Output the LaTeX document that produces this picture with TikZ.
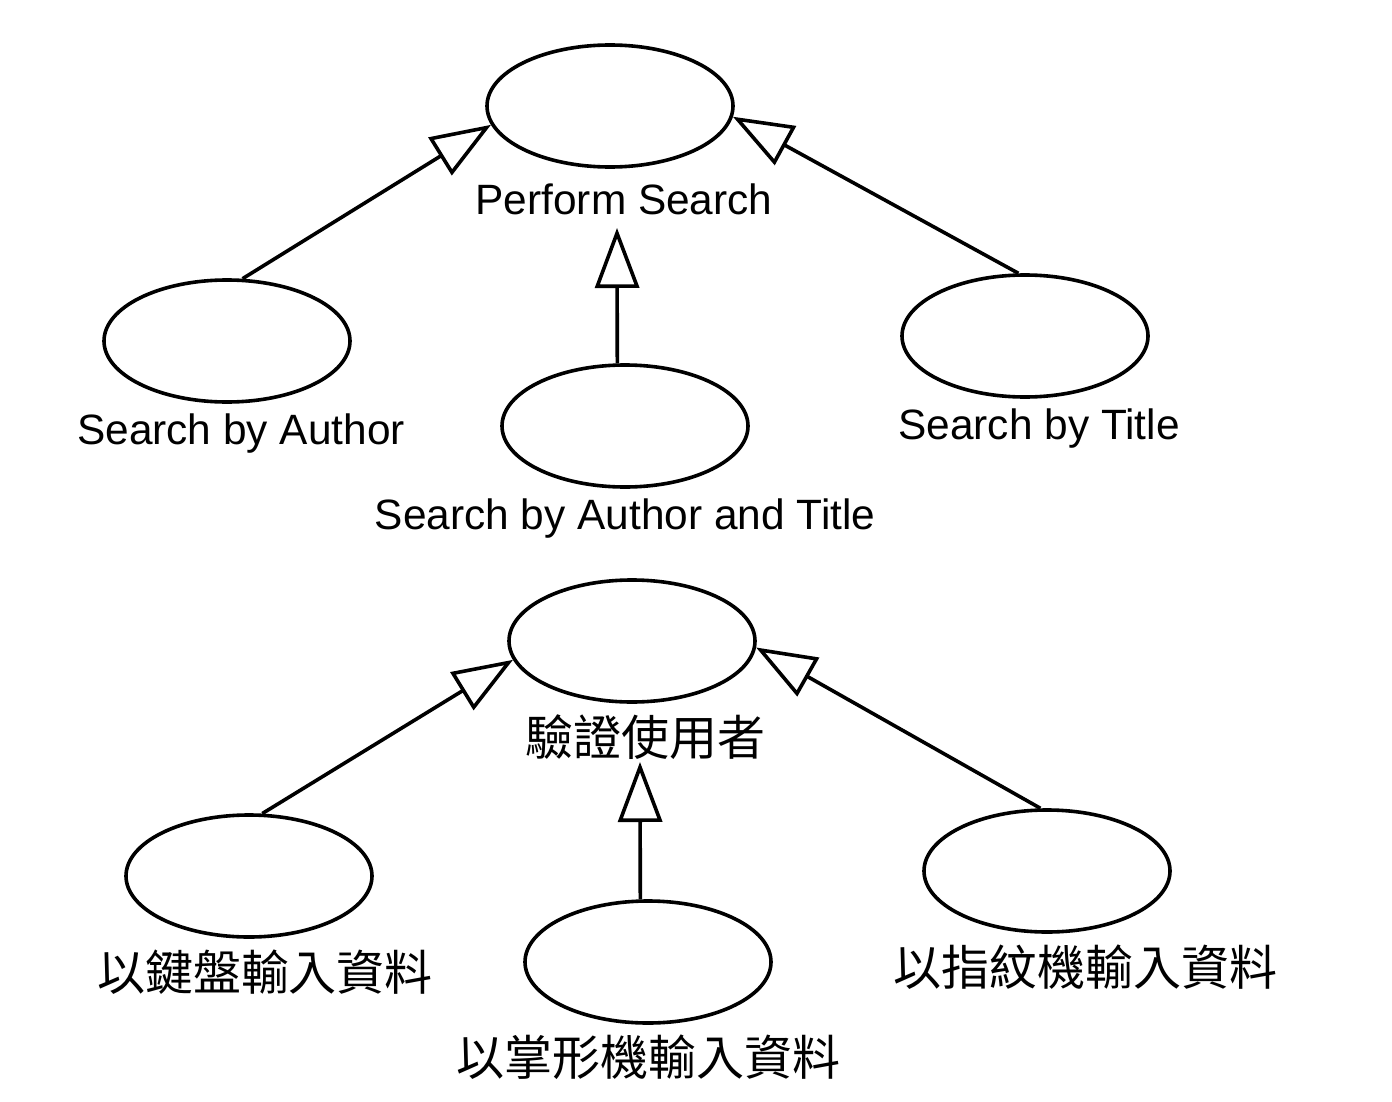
\documentclass[tikz,border=0pt]{standalone}
\usepackage{fontspec}
\setmainfont{Liberation Sans}
\newfontfamily\cjk{Noto Sans CJK TC}
\usetikzlibrary{shapes.geometric,arrows.meta}
\begin{document}
\begin{tikzpicture}[x=0.5pt,y=-0.5pt,
  usecase/.style={draw, ellipse, line width=1.8pt, minimum width=123pt, minimum height=61pt, inner sep=0pt},
  lab/.style={font=\fontsize{21.2}{24}\selectfont, inner sep=0pt},
  clab/.style={font=\cjk\fontsize{24}{27}\selectfont, inner sep=0pt},
  gen/.style={line width=1.8pt, -{Triangle[open, length=30pt, width=22pt, line width=1.8pt]}}]
\useasboundingbox (0,0) rectangle (1392,1102);
% top group
\node[usecase] (ps) at (610,106) {};
\node[usecase] (sa) at (227,341) {};
\node[usecase] (sat) at (625,426) {};
\node[usecase] (st) at (1025,336) {};
\node[lab] (pslab) at (624,199) {Perform Search};
\node[lab] (salab) at (241,434) {Search by Author};
\node[lab] (satlab) at (625,519) {Search by Author and Title};
\node[lab] (stlab) at (1039,429) {Search by Title};
\coordinate (pstip) at (617,228);
\draw[gen] (sa.76) -- (ps.189);
\draw[gen] (st.96) -- (ps.355);
\draw[gen] (sat.97) -- (pstip);
% bottom group
\node[usecase] (vu) at (632,641) {};
\node[usecase] (kb) at (249,876) {};
\node[usecase] (pm) at (648,962) {};
\node[usecase] (fp) at (1047,871) {};
\node[clab] (vulab) at (645,737) {驗證使用者};
\node[clab] (kblab) at (265,972) {以鍵盤輸入資料};
\node[clab] (pmlab) at (648,1057) {以掌形機輸入資料};
\node[clab] (fplab) at (1085,967) {以指紋機輸入資料};
\coordinate (vutip) at (640,762);
\draw[gen] (kb.78) -- (vu.189);
\draw[gen] (fp.96) -- (vu.357);
\draw[gen] (pm.97) -- (vutip);
\end{tikzpicture}
\end{document}
